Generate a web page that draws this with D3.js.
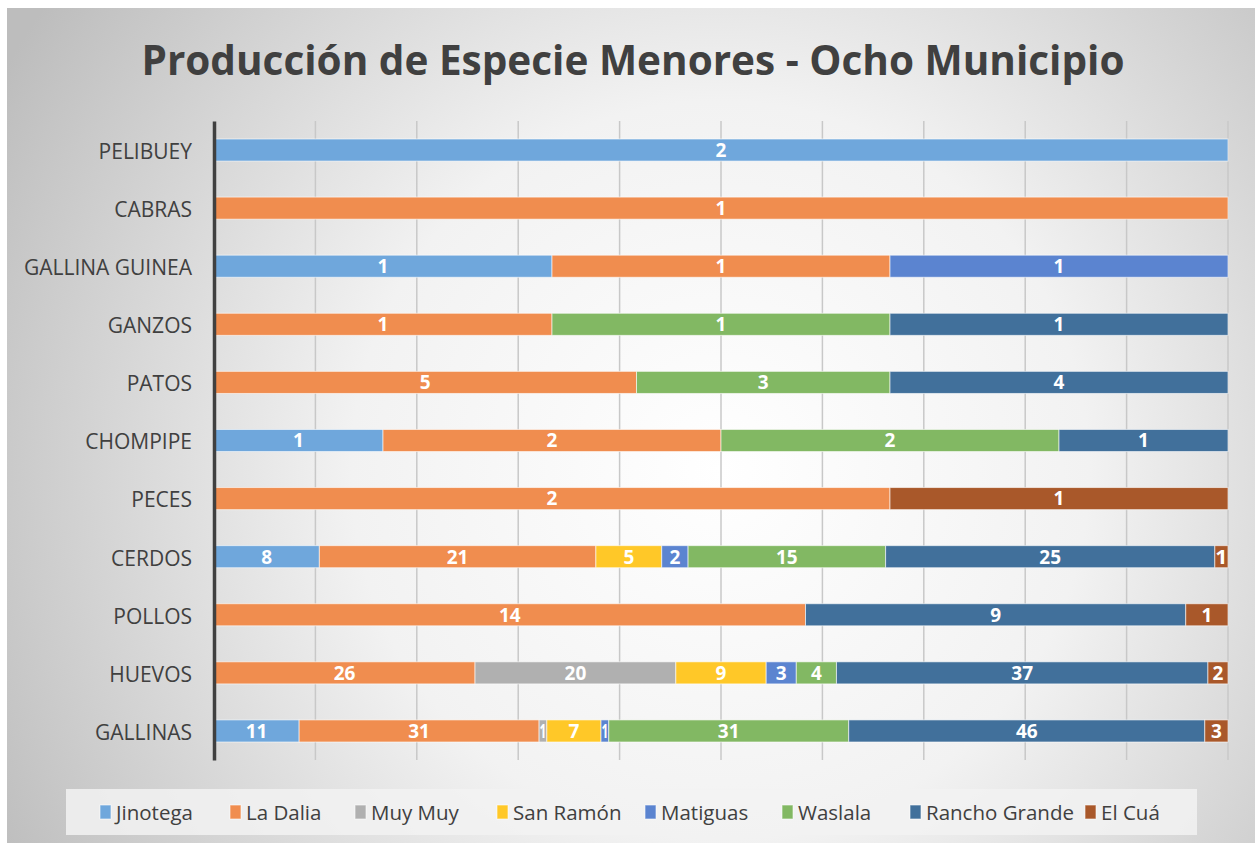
<!DOCTYPE html>
<html><head><meta charset="utf-8">
<script src="https://cdn.jsdelivr.net/npm/d3@7"></script>
<style>body{margin:0;background:#fff}svg{display:block}</style>
</head><body><svg id="c" width="1255" height="843"></svg>
<script>
const categories = ["PELIBUEY","CABRAS","GALLINA GUINEA","GANZOS","PATOS","CHOMPIPE","PECES","CERDOS","POLLOS","HUEVOS","GALLINAS"];
const seriesNames = ["Jinotega","La Dalia","Muy Muy","San Ramón","Matiguas","Waslala","Rancho Grande","El Cuá"];
const jinotega     = [2,0,1,0,0,1,0,8,0,0,11];
const laDalia      = [0,1,1,1,5,2,2,21,14,26,31];
const muyMuy       = [0,0,0,0,0,0,0,0,0,20,1];
const sanRamon     = [0,0,0,0,0,0,0,5,0,9,7];
const matiguas     = [0,0,1,0,0,0,0,2,0,3,1];
const waslala      = [0,0,0,1,3,2,0,15,0,4,31];
const ranchoGrande = [0,0,0,1,4,1,0,25,9,37,46];
const elCua        = [0,0,0,0,0,0,1,1,1,2,3];
const xTicks = [0,0.1,0.2,0.3,0.4,0.5,0.6,0.7,0.8,0.9,1];
const colors = ["#6FA7DC","#F08D4F","#B0B0B0","#FFC828","#5B84D0","#82B863","#41709B","#A9582A"];
const titleText = "Producción de Especie Menores - Ocho Municipio";

const seriesVals = [jinotega,laDalia,muyMuy,sanRamon,matiguas,waslala,ranchoGrande,elCua];
const rows = categories.map((c,i)=>{
  const r = {cat:c};
  const tot = d3.sum(seriesVals, s=>s[i]);
  seriesNames.forEach((n,j)=>{ r[n] = seriesVals[j][i]/tot; r[n+"_v"] = seriesVals[j][i]; });
  return r;
});
const stack = d3.stack().keys(seriesNames)(rows);

const svg = d3.select("#c");
const defs = svg.append("defs");
const g = defs.append("radialGradient").attr("id","bg").attr("gradientUnits","userSpaceOnUse")
  .attr("cx",720).attr("cy",470).attr("r",820);
g.append("stop").attr("offset","0").attr("stop-color","#ffffff");
g.append("stop").attr("offset","0.45").attr("stop-color","#f2f2f2");
g.append("stop").attr("offset","1").attr("stop-color","#bdbdbd");

svg.append("rect").attr("x",7).attr("y",8).attr("width",1248).attr("height",835).attr("fill","url(#bg)");

svg.append("text").attr("x",633).attr("y",75).attr("text-anchor","middle")
  .attr("font-family","Open Sans, sans-serif").attr("font-weight","bold").attr("font-size",40.5)
  .attr("fill","#404040").text(titleText);

const x = d3.scaleLinear().domain([0,1]).range([214,1228]);
const y = d3.scaleBand().domain(categories).range([121,760]).paddingInner(0.62).paddingOuter(0.31);

// gridlines
svg.append("g").selectAll("line").data(xTicks.slice(1)).join("line")
  .attr("x1",d=>x(d)).attr("x2",d=>x(d)).attr("y1",121).attr("y2",760)
  .attr("stroke","#c8c8c8").attr("stroke-width",1.5);

// bars
const layers = svg.append("g").selectAll("g").data(stack).join("g")
  .attr("fill",(d,i)=>colors[i]);
layers.selectAll("rect").data(d=>d.map(p=>({p,key:d.key}))).join("rect")
  .filter(d=>d.p[1]-d.p[0]>0)
  .attr("x",d=>x(d.p[0])).attr("width",d=>x(d.p[1])-x(d.p[0]))
  .attr("y",d=>y(d.p.data.cat)).attr("height",y.bandwidth())
  .attr("stroke","#ffffff").attr("stroke-opacity",0.6).attr("stroke-width",1);

// labels
const lab = svg.append("g");
stack.forEach(layer=>{
  layer.forEach(p=>{
    const v = p.data[layer.key+"_v"];
    if(!v) return;
    const w = x(p[1])-x(p[0]);
    lab.append("text").attr("x",(x(p[0])+x(p[1]))/2).attr("y",y(p.data.cat)+y.bandwidth()/2)
      .attr("dy","0.36em").attr("text-anchor","middle")
      .attr("font-family","Open Sans, sans-serif").attr("font-weight","bold")
      .attr("font-size",19).attr("fill","#ffffff")
      .attr("textLength", w<14 ? Math.max(w-1,4) : null)
      .attr("lengthAdjust","spacingAndGlyphs")
      .text(v);
  });
});

// axis line + category labels
const ax = svg.append("g").attr("transform","translate(214,0)").call(d3.axisLeft(y).tickSize(0).tickPadding(22));
ax.select(".domain").attr("stroke","#404040").attr("stroke-width",3.5);
ax.selectAll("text").attr("font-family","Open Sans, sans-serif").attr("font-size",21).attr("fill","#404040").attr("dy","0.42em");

// legend
svg.append("rect").attr("x",66).attr("y",789).attr("width",1131).attr("height",46).attr("fill","#f2f2f2").attr("fill-opacity",0.85);
const legX = [100,230,355,497,645,782,910,1085];
const leg = svg.append("g").selectAll("g").data(seriesNames).join("g")
  .attr("transform",(d,i)=>`translate(${legX[i]},812)`);
leg.append("rect").attr("x",0).attr("y",-7).attr("width",11).attr("height",14).attr("fill",(d,i)=>colors[i]).attr("stroke","#fff").attr("stroke-opacity",0.6);
leg.append("text").attr("x",16).attr("dy","0.38em").attr("font-family","Open Sans, sans-serif")
  .attr("font-size",20.5).attr("fill","#404040").text(d=>d);
</script></body></html>
